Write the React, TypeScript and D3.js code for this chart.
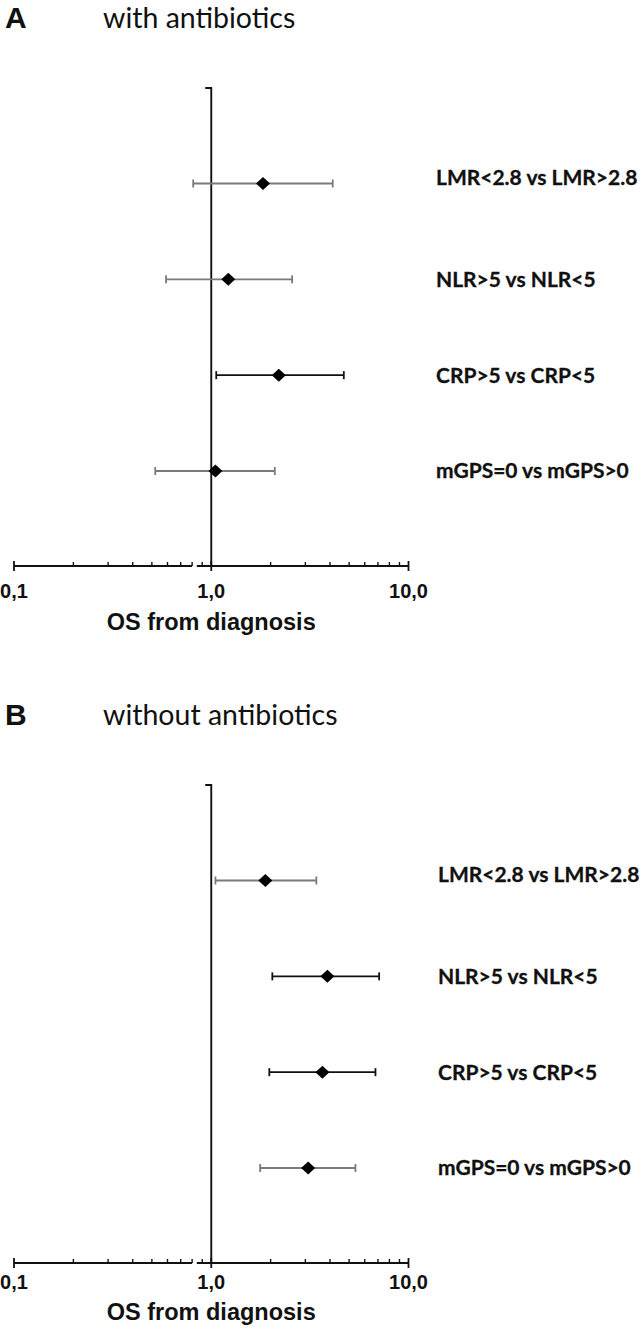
import React from "react";
import * as d3 from "d3";

const categories = ["LMR<2.8 vs LMR>2.8", "NLR>5 vs NLR<5", "CRP>5 vs CRP<5", "mGPS=0 vs mGPS>0"];

const hrA = [1.83, 1.22, 2.2, 1.05];
const loA = [0.81, 0.59, 1.06, 0.52];
const hiA = [4.13, 2.57, 4.7, 2.1];
const colorA = ["#7a7a7a", "#7a7a7a", "#111111", "#7a7a7a"];

const hrB = [1.88, 3.88, 3.66, 3.1];
const loB = [1.05, 2.04, 1.97, 1.77];
const hiB = [3.41, 7.1, 6.8, 5.38];
const colorB = ["#7a7a7a", "#111111", "#111111", "#7a7a7a"];

const tickLabels = ["0,1", "1,0", "10,0"];
const tickValues = [0.1, 1, 10];
const minorTicks = [0.2, 0.3, 0.4, 0.5, 0.6, 0.7, 0.8, 0.9, 2, 3, 4, 5, 6, 7, 8, 9];
const axisTitle = "OS from diagnosis";

const W = 644;
const H = 1332;

function diamondPath(cx: number, cy: number, rx: number, ry: number) {
  const p = d3.path();
  p.moveTo(cx, cy - ry);
  p.lineTo(cx + rx, cy);
  p.lineTo(cx, cy + ry);
  p.lineTo(cx - rx, cy);
  p.closePath();
  return p.toString();
}

type PanelProps = {
  top: number;
  letter: string;
  title: string;
  hr: number[];
  lo: number[];
  hi: number[];
  colors: string[];
  tickOffset: number;
  titleOffset: number;
  labelX: number;
};

function Panel({ top, letter, title, hr, lo, hi, colors, tickOffset, titleOffset, labelX }: PanelProps) {
  const x = d3.scaleLog().domain([0.1, 10]).range([14, 408.5]);
  const y = d3.scalePoint<string>().domain(categories).range([top + 95.5, top + 383]);
  const axisY = top + 478;
  const x1 = x(1);
  const capH = 4;
  return (
    <g>
      <text x={5} y={top - 60} fontFamily="'Liberation Sans', Arial, sans-serif" fontWeight="bold" fontSize={30} fill="#111">
        {letter}
      </text>
      <text x={103} y={top - 60} fontFamily="Lato, sans-serif" fontSize={28.5} fill="#111">
        {title}
      </text>
      <path d={`M${x1 - 6},${top} H${x1} V${axisY}`} fill="none" stroke="#111" strokeWidth={1.9} />
      <line x1={x(0.1)} x2={x(0.8)} y1={axisY} y2={axisY} stroke="#111" strokeWidth={1.9} />
      <line x1={x(0.845)} x2={x(10)} y1={axisY} y2={axisY} stroke="#111" strokeWidth={1.9} />
      {tickValues.map((v) => (
        <line key={"M" + v} x1={x(v)} x2={x(v)} y1={axisY - 5} y2={axisY + 5} stroke="#111" strokeWidth={1.8} />
      ))}
      {minorTicks.map((v) => (
        <line key={"m" + v} x1={x(v)} x2={x(v)} y1={axisY - 4} y2={axisY} stroke="#111" strokeWidth={1.4} />
      ))}
      {tickValues.map((v, i) => (
        <text
          key={"t" + v}
          x={x(v)}
          y={axisY + tickOffset}
          textAnchor="middle"
          fontFamily="'Liberation Sans', Arial, sans-serif"
          fontWeight="bold"
          fontSize={20}
          fill="#111"
        >
          {tickLabels[i]}
        </text>
      ))}
      <text
        x={x1}
        y={axisY + titleOffset}
        textAnchor="middle"
        fontFamily="'Liberation Sans', Arial, sans-serif"
        fontWeight="bold"
        fontSize={23.5}
        fill="#111"
      >
        {axisTitle}
      </text>
      {categories.map((c, i) => {
        const cy = y(c) as number;
        const col = colors[i];
        return (
          <g key={c}>
            <line x1={x(lo[i])} x2={x(hi[i])} y1={cy} y2={cy} stroke={col} strokeWidth={1.9} />
            <line x1={x(lo[i])} x2={x(lo[i])} y1={cy - capH} y2={cy + capH} stroke={col} strokeWidth={1.8} />
            <line x1={x(hi[i])} x2={x(hi[i])} y1={cy - capH} y2={cy + capH} stroke={col} strokeWidth={1.8} />
            <path d={diamondPath(x(hr[i]), cy, 7, 6.5)} fill="#000" />
            <text
              x={labelX}
              y={cy + (i === 0 ? -6 : 0)}
              dy="0.35em"
              fontFamily="Lato, sans-serif"
              fontWeight="bold"
              fontSize={21}
              fill="#111"
              stroke="#111"
              strokeWidth={0.3}
            >
              {c}
            </text>
          </g>
        );
      })}
    </g>
  );
}

export default function App() {
  return (
    <svg width={W} height={H} style={{ position: "absolute", left: 0, top: 0, background: "#fff" }}>
      <rect width={W} height={H} fill="#fff" />
      <Panel
        top={88}
        letter="A"
        title="with antibiotics"
        hr={hrA}
        lo={loA}
        hi={hiA}
        colors={colorA}
        tickOffset={32}
        titleOffset={64}
        labelX={436}
      />
      <Panel
        top={785}
        letter="B"
        title="without antibiotics"
        hr={hrB}
        lo={loB}
        hi={hiB}
        colors={colorB}
        tickOffset={26}
        titleOffset={57}
        labelX={438}
      />
    </svg>
  );
}
